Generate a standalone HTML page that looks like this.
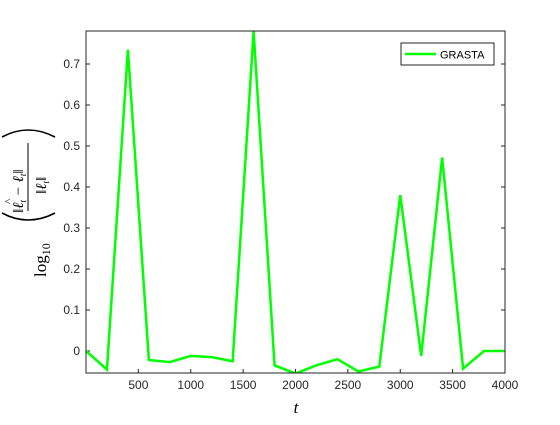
<!DOCTYPE html>
<html><head><meta charset="utf-8"><style>
body{margin:0;background:#fff;width:560px;height:420px;overflow:hidden}
svg{font-family:"Liberation Sans",sans-serif}
</style></head><body>
<svg width="560" height="420" viewBox="0 0 560 420" xmlns="http://www.w3.org/2000/svg">
<defs><clipPath id="pc"><rect x="86" y="31" width="419" height="342"/></clipPath></defs>
<rect x="86" y="31" width="419" height="342" fill="#fff"/>
<g id="ticks"></g>
<polyline id="line" fill="none" stroke="#00ff00" stroke-width="2.5" stroke-linejoin="miter" clip-path="url(#pc)"/>
<rect x="86" y="31" width="419" height="342" fill="none" stroke="#262626" stroke-width="1"/>
<g>
<rect x="401" y="43" width="93" height="22" fill="#fff" stroke="#262626" stroke-width="1"/>
<line x1="405" y1="54" x2="436" y2="54" stroke="#00ff00" stroke-width="2.5"/>
<text x="440" y="58.5" font-size="11" fill="#000">GRASTA</text>
</g>
<text x="296" y="413" font-size="17" font-style="italic" font-family="Liberation Serif,serif" text-anchor="middle">t</text>
<g transform="translate(38,205) rotate(-90)" font-family="Liberation Serif,serif">
<text x="-72" y="8" font-size="17">log<tspan font-size="12" dy="4">10</tspan></text>
<path d="M-8,-36 Q-22,-10 -8,17" fill="none" stroke="#000" stroke-width="1.6"/>
<path d="M68,-36 Q82,-10 68,17" fill="none" stroke="#000" stroke-width="1.6"/>
<text x="-8" y="-15" font-size="15" font-style="italic">‖ℓ<tspan font-size="9" dy="3">t</tspan><tspan dy="-3"> − ℓ</tspan><tspan font-size="9" dy="3">t</tspan><tspan dy="-3">‖</tspan></text>
<text x="1" y="-26" font-size="11">^</text>
<line x1="-6" y1="-10" x2="62" y2="-10" stroke="#000" stroke-width="1"/>
<text x="11" y="8" font-size="15" font-style="italic">‖ℓ<tspan font-size="9" dy="3">t</tspan><tspan dy="-3">‖</tspan></text>
</g>
<script>
const xs=[0,200,400,600,800,1000,1200,1400,1600,1800,2000,2200,2400,2600,2800,3000,3200,3400,3600,3800,4000];
const vals=[0,-0.045,0.735,-0.022,-0.027,-0.012,-0.015,-0.025,0.78,-0.035,-0.055,-0.035,-0.02,-0.05,-0.038,0.38,-0.012,0.472,-0.043,0,0];
const xTicks=[500,1000,1500,2000,2500,3000,3500,4000];
const yTicks=[0,0.1,0.2,0.3,0.4,0.5,0.6,0.7];
const yLabels=["0","0.1","0.2","0.3","0.4","0.5","0.6","0.7"];
const X=v=>86+v*(419/4000);
const Y=v=>351-v*410;
document.getElementById('line').setAttribute('points',xs.map((x,i)=>X(x)+','+Y(vals[i])).join(' '));
const g=document.getElementById('ticks');const ns='http://www.w3.org/2000/svg';
function mk(t,a){const e=document.createElementNS(ns,t);for(const k in a)e.setAttribute(k,a[k]);g.appendChild(e);return e;}
xTicks.forEach(t=>{
 const l=mk('line',{x1:X(t),x2:X(t),y1:373,y2:369,stroke:'#262626'});
 
 
 const tx=mk('text',{x:X(t),y:389,'font-size':12,'text-anchor':'middle',fill:'#262626'});tx.textContent=t;
 
 
});
yTicks.forEach((t,i)=>{
 const l=mk('line',{x1:86,x2:90,y1:Y(t),y2:Y(t),stroke:'#262626'});
 
 
 const l2=mk('line',{x1:501,x2:505,y1:Y(t),y2:Y(t),stroke:'#262626'});
 
 
 const tx=mk('text',{x:80,y:Y(t)+4,'font-size':12,'text-anchor':'end',fill:'#262626'});tx.textContent=yLabels[i];
 
 
});
</script>
</svg>
</body></html>
